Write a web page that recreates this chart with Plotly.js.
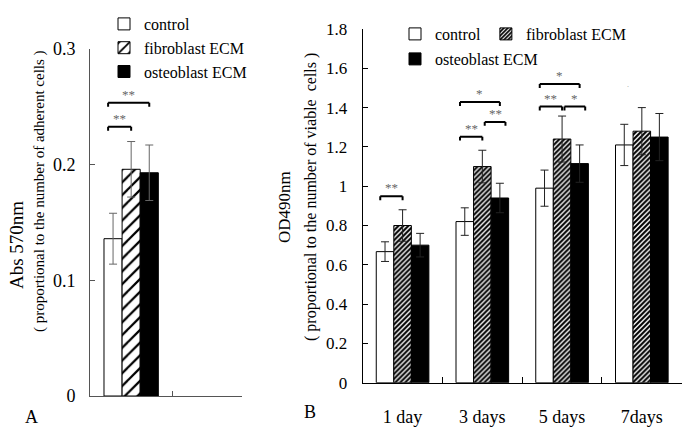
<!DOCTYPE html>
<html>
<head>
<meta charset="utf-8">
<script src="https://cdn.plot.ly/plotly-3.0.1.min.js"></script>
<style>html,body{margin:0;padding:0;background:#fff;}#chart{width:685px;height:431px;}</style>
</head>
<body>
<div id="chart"></div>
<script>
// ---------- data ----------
const seriesNames = ["control", "fibroblast ECM", "osteoblast ECM"];

// Panel A (adhesion)
const groupsA = ["A"];
const ctrlA = [0.136], ctrlAErr = [0.022];
const fibroA = [0.196], fibroAErr = [0.024];
const osteoA = [0.193], osteoAErr = [0.024];

// Panel B (viability)
const days = ["1 day", "3 days", "5 days", "7days"];
const ctrlB = [0.667, 0.82, 0.99, 1.21];
const ctrlBErr = [0.05, 0.07, 0.092, 0.105];
const fibroB = [0.80, 1.10, 1.24, 1.28];
const fibroBErr = [0.08, 0.083, 0.117, 0.12];
const osteoB = [0.70, 0.94, 1.115, 1.25];
const osteoBErr = [0.06, 0.075, 0.095, 0.12];

// significance brackets: group index, series a, series b, height, label
const sigA_group = [0, 0];
const sigA_a = [0, 0];
const sigA_b = [2, 1];
const sigA_y = [0.2536, 0.2328];
const sigA_lab = ["**", "**"];

const sigB_group = [0, 1, 1, 1, 2, 2, 2];
const sigB_a = [0, 0, 0, 1, 0, 0, 1];
const sigB_b = [1, 2, 1, 2, 2, 1, 2];
const sigB_y = [0.949, 1.428, 1.252, 1.327, 1.52, 1.405, 1.405];
const sigB_lab = ["**", "*", "**", "**", "*", "**", "*"];

// ---------- styling ----------
const W = 685, H = 431;
const FONT = "Liberation Serif";
const BARGAP = 0.34;
const px = v => v / W;
const py = v => 1 - v / H;

const patA = {shape: "/", size: 9, solidity: 0.25, fgcolor: "#000", bgcolor: "#fff"};
const patB = {shape: "/", size: 3.5, solidity: 0.6, fgcolor: "#000", bgcolor: "#fff"};

function barTrace(x, y, err, name, i, xa, ya, legend, pat, errColor) {
  const marker = {line: {color: "#000", width: 1}};
  if (i === 0) marker.color = "#fff";
  else if (i === 1) { marker.color = "#fff"; marker.pattern = pat; }
  else marker.color = "#000";
  return {
    type: "bar", x: x, y: y, name: name, xaxis: xa, yaxis: ya, legend: legend,
    marker: marker,
    error_y: {type: "data", array: err, visible: true, color: errColor, thickness: 1, width: 4},
    hoverinfo: "skip"
  };
}

const traces = [
  barTrace(groupsA, ctrlA, ctrlAErr, seriesNames[0], 0, "x", "y", "legend", patA, "#666"),
  barTrace(groupsA, fibroA, fibroAErr, seriesNames[1], 1, "x", "y", "legend", patA, "#666"),
  barTrace(groupsA, osteoA, osteoAErr, seriesNames[2], 2, "x", "y", "legend", patA, "#666"),
  barTrace(days, ctrlB, ctrlBErr, seriesNames[0], 0, "x2", "y2", "legend2", patB, "#222"),
  barTrace(days, fibroB, fibroBErr, seriesNames[1], 1, "x2", "y2", "legend2", patB, "#222"),
  barTrace(days, osteoB, osteoBErr, seriesNames[2], 2, "x2", "y2", "legend3", patB, "#222")
];

// bar centre in category units
function center(g, s) {
  const w = (1 - BARGAP) / 3;
  return g - (1 - BARGAP) / 2 + (s + 0.5) * w;
}

const shapes = [];
const annotations = [];
function addBrackets(groups, as, bs, ys, labs, xr, yr, leg, lineColor) {
  for (let k = 0; k < groups.length; k++) {
    const g = groups[k], a = as[k], b = bs[k], y = ys[k];
    const x0 = center(g, a) + (a === 0 ? -0.06 : 0.03);
    const x1 = center(g, b) + (a === 1 ? 0.07 : 0.0);
    const ln = {color: lineColor, width: 2};
    shapes.push({type: "line", xref: xr, yref: yr, x0: x0, x1: x1, y0: y, y1: y, line: ln});
    shapes.push({type: "line", xref: xr, yref: yr, x0: x0, x1: x0, y0: y, y1: y - leg, line: ln});
    shapes.push({type: "line", xref: xr, yref: yr, x0: x1, x1: x1, y0: y, y1: y - leg, line: ln});
    annotations.push({xref: xr, yref: yr, x: (x0 + x1) / 2, y: y, text: labs[k], showarrow: false,
      yanchor: "bottom", yshift: -1, font: {family: FONT, size: 13, color: "#666"}});
  }
}
addBrackets(sigA_group, sigA_a, sigA_b, sigA_y, sigA_lab, "x", "y", 0.0035, "#000");
addBrackets(sigB_group, sigB_a, sigB_b, sigB_y, sigB_lab, "x2", "y2", 0.02, "#000");

// text labels
function txt(x, y, t, size, angle) {
  annotations.push({xref: "paper", yref: "paper", x: px(x), y: py(y), text: t, showarrow: false,
    xanchor: "center", yanchor: "middle", textangle: angle || 0,
    font: {family: FONT, size: size, color: "#000"}});
}
txt(16, 245, "Abs 570nm", 19, -90);
txt(39, 191, "( proportional to the number of adherent cells )", 15, -90);
txt(284, 207, "OD490nm", 17, -90);
txt(311, 197, "( proportional to the number of viable  cells )", 16, -90);
txt(32, 417, "A", 18);
txt(310, 412, "B", 18);
annotations.push({xref: "paper", yref: "paper", x: px(631), y: py(78), text: ".", showarrow: false,
  font: {family: FONT, size: 8, color: "#999"}});

const axBase = {showgrid: false, zeroline: false, showline: true, linewidth: 1, mirror: false,
  ticks: "inside", ticklen: 5, tickwidth: 1, fixedrange: true};

const legFont = s => ({family: FONT, size: s, color: "#000"});

const layout = {
  width: W, height: H,
  margin: {l: 0, r: 0, t: 0, b: 0},
  paper_bgcolor: "#fff", plot_bgcolor: "rgba(0,0,0,0)",
  font: {family: FONT, color: "#000"},
  barmode: "group", bargap: BARGAP, bargroupgap: 0,
  showlegend: true,
  xaxis: Object.assign({}, axBase, {domain: [px(90), px(241.7)], anchor: "y", type: "category",
    range: [-0.5, 1.343], tickson: "boundaries", showticklabels: false, linecolor: "#555", tickcolor: "#555"}),
  yaxis: Object.assign({}, axBase, {domain: [1 - 396 / H, 1 - 49 / H], anchor: "x", range: [0, 0.3],
    tickvals: [0, 0.1, 0.2, 0.3], ticktext: ["0", "0.1", "0.2", "0.3"], linecolor: "#555", tickcolor: "#555",
    ticklabelstandoff: 10, tickfont: legFont(18)}),
  xaxis2: Object.assign({}, axBase, {domain: [px(362.7), px(681.7)], anchor: "y2", type: "category",
    range: [-0.5, 3.5], tickson: "boundaries", ticklen: 6, linecolor: "#000", tickcolor: "#000",
    ticklabelstandoff: 18, tickfont: legFont(18)}),
  yaxis2: Object.assign({}, axBase, {domain: [1 - 382.7 / H, 1 - 29 / H], anchor: "x2", range: [0, 1.8],
    tickvals: [0, 0.2, 0.4, 0.6, 0.8, 1, 1.2, 1.4, 1.6, 1.8],
    ticktext: ["0", "0.2", "0.4", "0.6", "0.8", "1", "1.2", "1.4", "1.6", "1.8"],
    linecolor: "#000", tickcolor: "#000", ticklabelstandoff: 11,
    tickfont: legFont(17)}),
  legend: {x: px(104), y: py(7), xanchor: "left", yanchor: "top", orientation: "v",
    bgcolor: "rgba(0,0,0,0)", borderwidth: 0, tracegroupgap: 0, font: legFont(16)},
  legend2: {x: px(395), y: py(17), xanchor: "left", yanchor: "top", orientation: "h",
    bgcolor: "rgba(0,0,0,0)", borderwidth: 0, font: legFont(16)},
  legend3: {x: px(395), y: py(42), xanchor: "left", yanchor: "top", orientation: "h",
    bgcolor: "rgba(0,0,0,0)", borderwidth: 0, font: legFont(16)},
  shapes: shapes,
  annotations: annotations
};

Plotly.newPlot("chart", traces, layout, {displayModeBar: false, staticPlot: true});
</script>
</body>
</html>
